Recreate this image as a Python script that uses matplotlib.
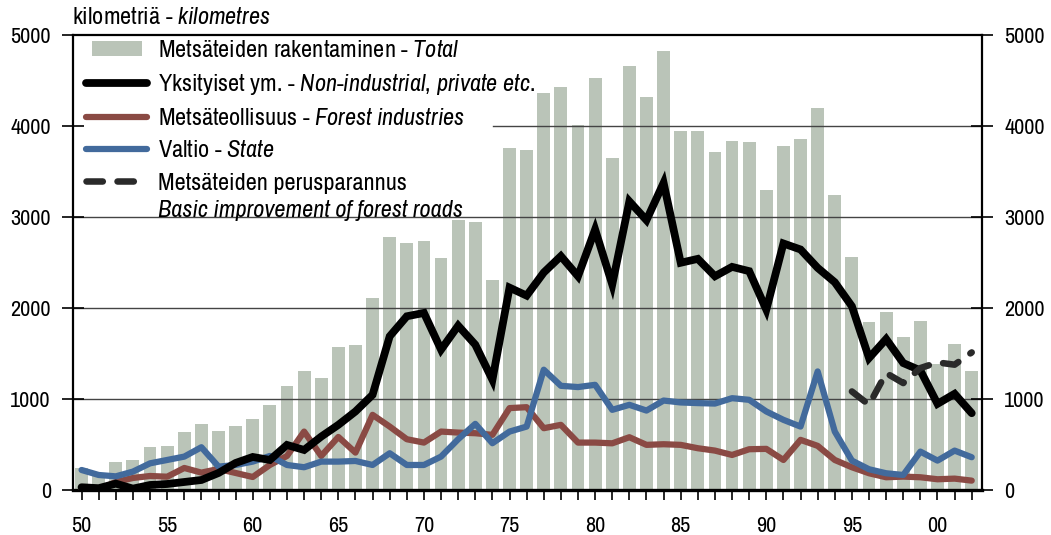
import matplotlib
matplotlib.use("Agg")
import matplotlib.pyplot as plt
from matplotlib.lines import Line2D
from matplotlib.patches import Patch, Rectangle
from matplotlib.legend_handler import HandlerPatch
from matplotlib import font_manager

years = list(range(1950, 2003))
total = [245, 190, 308, 330, 477, 488, 642, 727, 650, 705, 785, 936, 1138, 1310, 1230,
         1575, 1597, 2114, 2775, 2709, 2731, 2544, 2963, 2941, 2313, 3755, 3733, 4361,
         4427, 4009, 4526, 3645, 4659, 4317, 4824, 3943, 3943, 3711, 3833, 3821, 3293,
         3777, 3854, 4196, 3238, 2555, 1850, 1960, 1685, 1861, 1390, 1608, 1310]
private = [30, 20, 70, 15, 55, 66, 88, 110, 187, 297, 363, 330, 495, 440, 587, 716, 863,
           1046, 1689, 1909, 1946, 1542, 1806, 1597, 1211, 2224, 2136, 2390, 2570, 2349,
           2863, 2258, 3172, 2965, 3375, 2497, 2540, 2349, 2452, 2405, 1982, 2709, 2643,
           2441, 2283, 2019, 1450, 1659, 1395, 1314, 947, 1057, 844]
industry = [5, 5, 88, 132, 154, 146, 242, 191, 231, 187, 143, 275, 374, 642, 374, 583, 411,
            826, 697, 558, 521, 642, 631, 624, 606, 900, 910, 679, 716, 521, 521, 513, 580,
            496, 503, 496, 459, 433, 385, 448, 452, 330, 551, 485, 330, 250, 184, 140, 147,
            140, 118, 125, 103]
state = [220, 165, 150, 202, 293, 330, 367, 470, 257, 275, 312, 374, 275, 250, 312, 312, 319,
         275, 404, 275, 275, 367, 558, 727, 514, 642, 697, 1322, 1145, 1131, 1156, 881, 936,
         873, 983, 962, 955, 950, 1009, 991, 863, 771, 697, 1303, 642, 323, 228, 184, 165,
         422, 323, 433, 360]
improve_years = list(range(1995, 2003))
improve = [1083, 936, 1285, 1175, 1340, 1402, 1377, 1512]

xtick_years = list(range(1950, 2001, 5))
xtick_labels = ["50", "55", "60", "65", "70", "75", "80", "85", "90", "95", "00"]
yticks = [0, 1000, 2000, 3000, 4000, 5000]

names = {f.name for f in font_manager.fontManager.ttflist}
main_font = "Liberation Sans"
for cand in ["Nimbus Sans Narrow", "Liberation Sans Narrow", "Arial Narrow", "Archivo Narrow"]:
    if cand in names:
        main_font = cand
        break

plt.rcParams["font.family"] = [main_font, "DejaVu Sans"]
plt.rcParams["mathtext.fontset"] = "custom"
plt.rcParams["mathtext.rm"] = main_font
plt.rcParams["mathtext.it"] = main_font + ":italic"

c_bar = "#bac4b8"
c_priv = "#000000"
c_ind = "#8a4a44"
c_state = "#426a9c"
c_imp = "#2a2a2a"

lw_main = 5.6
lw_sub = 4.5
lw_dash = 4.7
dash_pat = (2.5, 2.25)

fig = plt.figure(figsize=(10.51, 5.35), dpi=100)
ax = fig.add_axes([73 / 1051, 1 - 490 / 535, (982 - 73) / 1051, (490 - 35) / 535])

ax.bar(years, total, width=0.75, color=c_bar, zorder=1)
for y in [1000, 2000, 3000]:
    ax.axhline(y, color="#444444", lw=1.0, zorder=1.5)
ax.axhline(4000, xmin=(493 - 73) / 909, xmax=1, color="#444444", lw=1.0, zorder=1.5)

ax.plot(years, industry, color=c_ind, lw=lw_sub, solid_joinstyle="round", solid_capstyle="round", zorder=3)
ax.plot(years, state, color=c_state, lw=lw_sub, solid_joinstyle="round", solid_capstyle="round", zorder=3.1)
ax.plot(years, private, color=c_priv, lw=lw_main, solid_joinstyle="miter", solid_capstyle="round", zorder=3.2)
ax.plot(improve_years, improve, color=c_imp, lw=lw_dash, dashes=dash_pat, dash_capstyle="round", zorder=3.3)

ax.set_xlim(1949.5, 2002.6)
ax.set_ylim(0, 5000)
ax.set_xticks(xtick_years)
ax.set_xticklabels(xtick_labels)
ax.set_xticks(years, minor=True)
ax.set_yticks(yticks)
ax.tick_params(axis="x", which="both", direction="out", length=7, width=1.2, pad=12, labelsize=16)
ax.tick_params(axis="y", which="both", direction="inout", length=16, width=1.2, pad=8,
               labelsize=16, left=True, right=True, labelleft=True, labelright=True)
for side in ["left", "right", "top"]:
    ax.spines[side].set_linewidth(1.6)
ax.spines["bottom"].set_linewidth(2.4)


def small_patch(legend, orig_handle, xdescent, ydescent, width, height, fontsize):
    return Rectangle((-xdescent + 0.09 * width, -ydescent + 0.06 * height),
                     0.82 * width, 0.88 * height)


handles = [
    Patch(facecolor=c_bar, edgecolor="none"),
    Line2D([], [], color=c_priv, lw=lw_main, solid_capstyle="round"),
    Line2D([], [], color=c_ind, lw=lw_sub, solid_capstyle="round"),
    Line2D([], [], color=c_state, lw=lw_sub, solid_capstyle="round"),
    Line2D([], [], color=c_imp, lw=lw_dash, dashes=dash_pat, dash_capstyle="round"),
]
labels = [
    r"Metsäteiden rakentaminen - $\mathit{Total}$",
    r"Yksityiset ym. - $\mathit{Non}$-$\mathit{industrial}$, $\mathit{private}$ $\mathit{etc.}$",
    r"Metsäteollisuus - $\mathit{Forest}$ $\mathit{industries}$",
    r"Valtio - $\mathit{State}$",
    "Metsäteiden perusparannus",
]
leg = ax.legend(handles, labels, loc="upper left", bbox_to_anchor=(0.0095, 1.0),
                fontsize=17.5, frameon=False, handlelength=2.5, handletextpad=0.45,
                labelspacing=0.46, borderpad=0.1, borderaxespad=0.1,
                handler_map={Patch: HandlerPatch(patch_func=small_patch)})
leg.set_zorder(5)
last = leg.get_texts()[-1]
ax.annotate("Basic improvement of forest roads", xy=(0, 0), xycoords=last,
            xytext=(0, -27), textcoords="offset pixels", fontsize=17.5,
            fontstyle="italic", ha="left", va="bottom", zorder=6)

fig.text(72 / 1051, 1 - 17 / 535, r"kilometriä - $\mathit{kilometres}$", fontsize=17.5,
         ha="left", va="center")

fig.savefig("out.png", dpi=100)
